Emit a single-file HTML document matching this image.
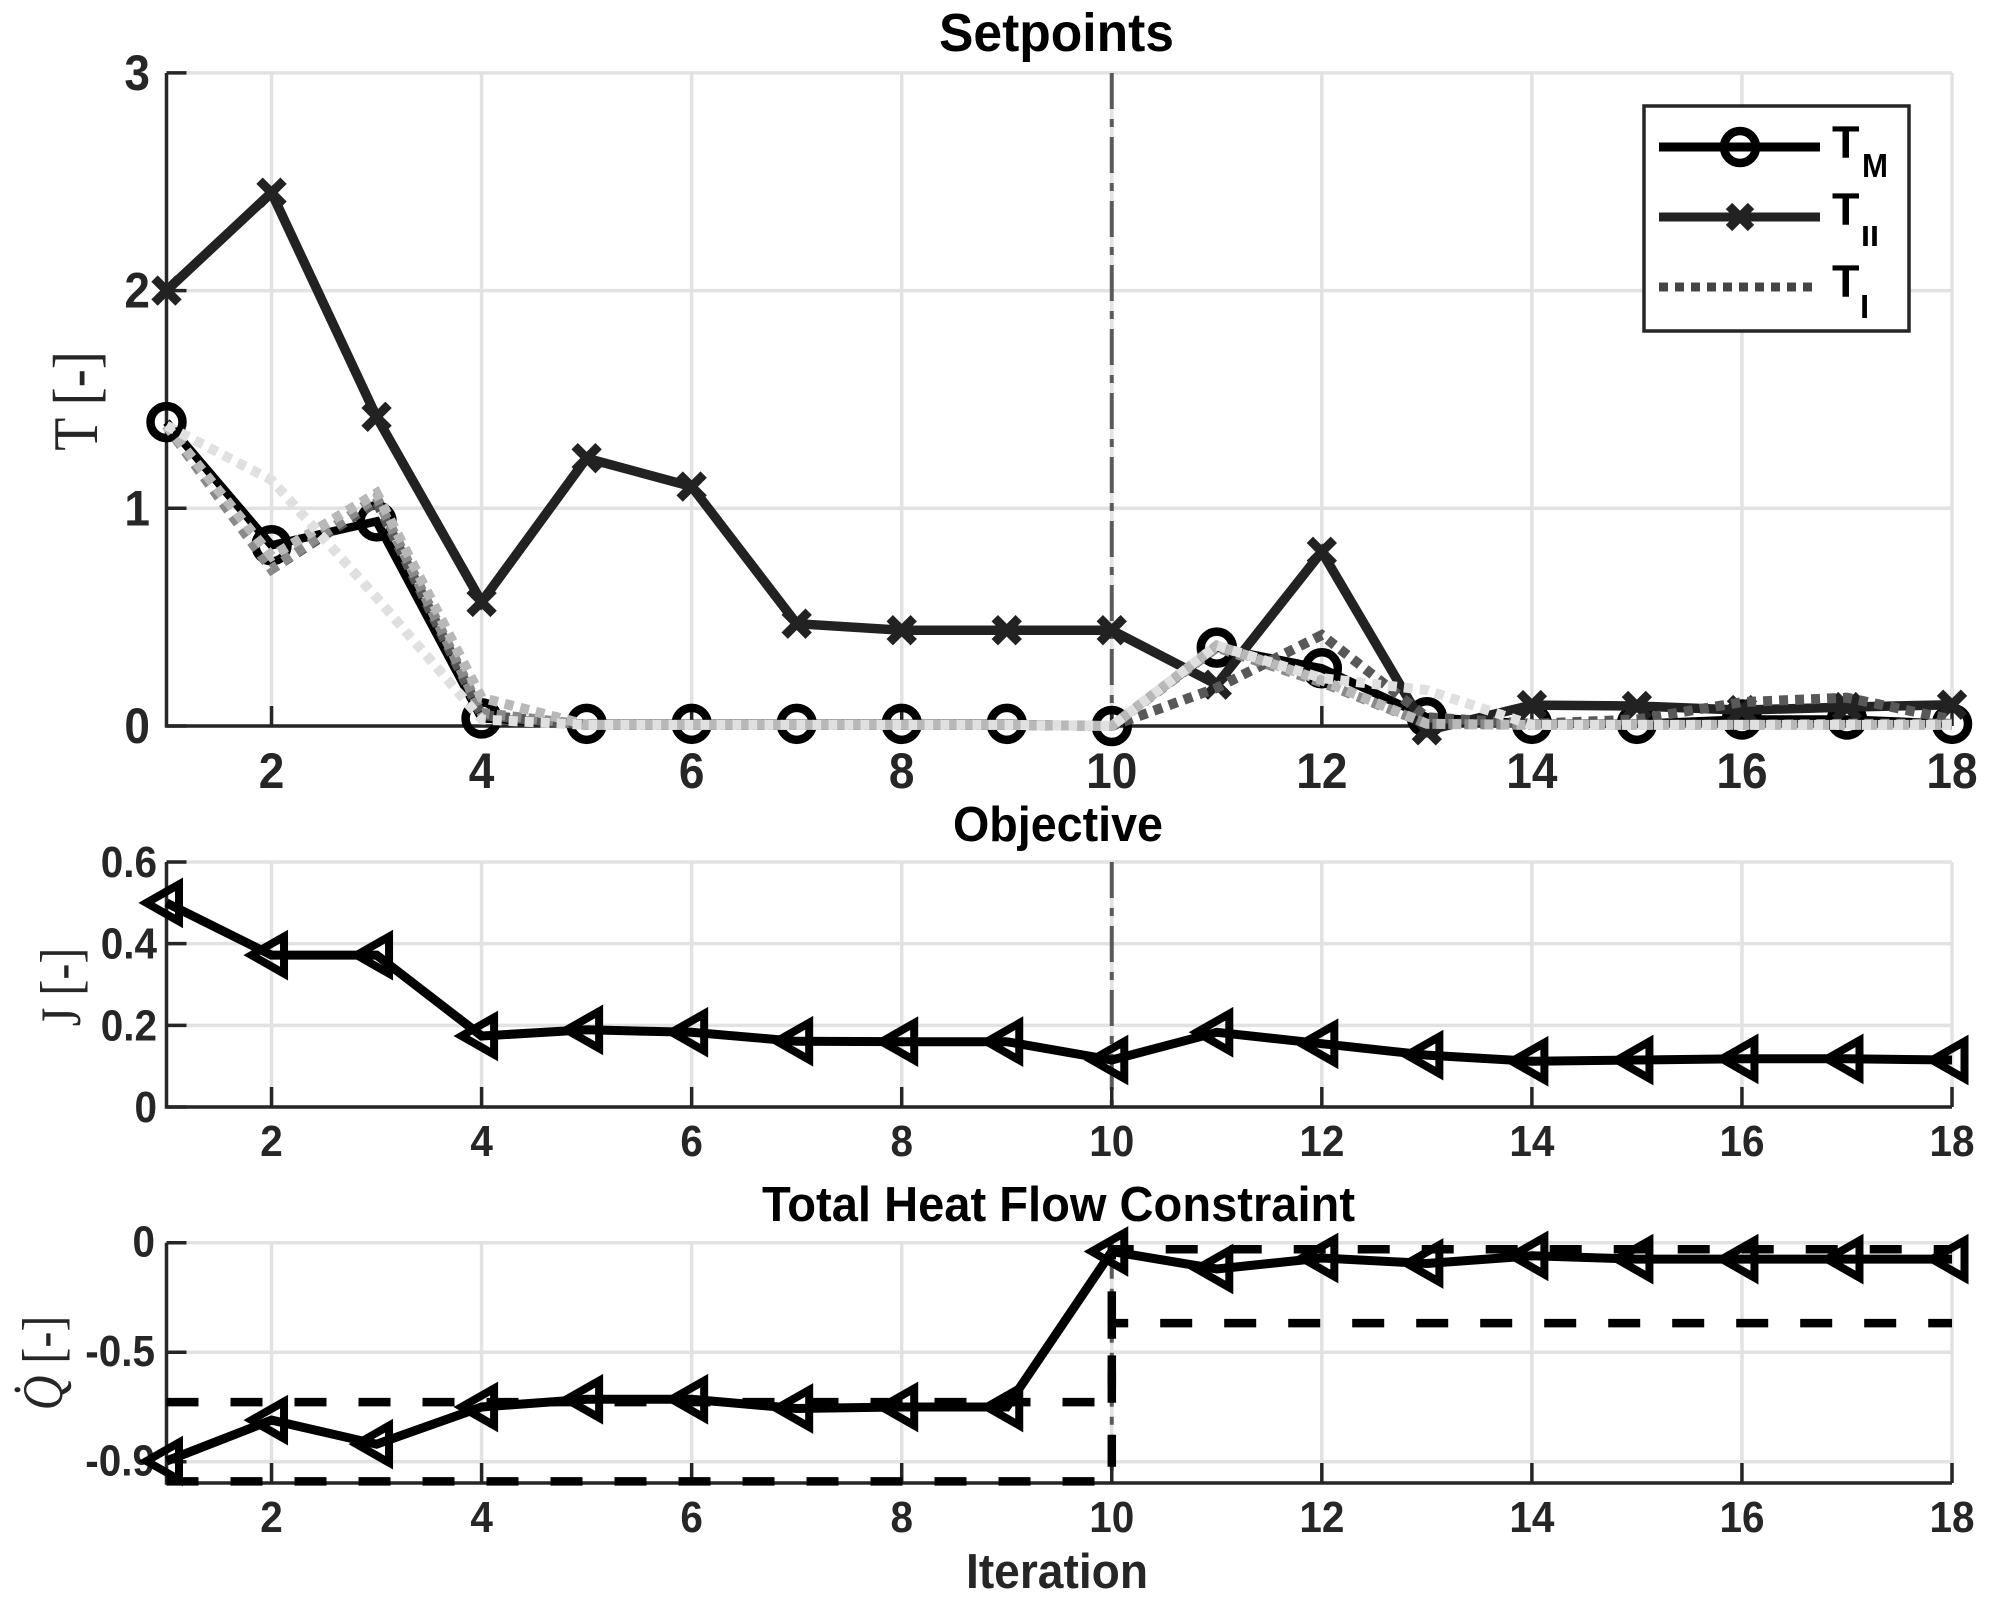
<!DOCTYPE html>
<html lang="en">
<head>
<meta charset="utf-8">
<title>Setpoints, Objective and Total Heat Flow Constraint</title>
<style>
html,body{margin:0;padding:0;background:#fff;}
svg{display:block;}
text{font-family:"Liberation Sans",sans-serif;font-weight:bold;fill:#262626;}
.serif{font-family:"Liberation Serif",serif;font-weight:normal;}
.title{fill:#000;}
</style>
</head>
<body>
<svg id="chart" xmlns="http://www.w3.org/2000/svg" width="2002" height="1610" viewBox="0 0 2002 1610">
  <rect x="0" y="0" width="2002" height="1610" fill="#fff"/>
  <text class="title" x="939" y="51" font-size="54" textLength="235" lengthAdjust="spacingAndGlyphs">Setpoints</text>
  <text class="title" x="953" y="841" font-size="49" textLength="210" lengthAdjust="spacingAndGlyphs">Objective</text>
  <text class="title" x="762" y="1221" font-size="49" textLength="593" lengthAdjust="spacingAndGlyphs">Total Heat Flow Constraint</text>
  <text x="966" y="1588" font-size="49" textLength="182" lengthAdjust="spacingAndGlyphs">Iteration</text>
  <text class="serif" text-anchor="middle" transform="translate(97,401) rotate(-90) scale(1,1.18)" font-size="54">T [-]</text>
  <text class="serif" text-anchor="middle" transform="translate(80,987) rotate(-90) scale(1,1.2)" font-size="48">J [-]</text>
  <text class="serif" text-anchor="middle" transform="translate(62,1363) rotate(-90) scale(1,1.2)" font-size="48" font-style="italic">Q&#775; <tspan font-style="normal">[-]</tspan></text>
  <g id="plots"></g>
  <g id="legend">
    <rect x="1644" y="106" width="265" height="225" fill="#fff" stroke="#262626" stroke-width="3.5"/>
    <g>
      <line x1="1659" y1="147" x2="1820" y2="147" stroke="#000" stroke-width="9"/>
      <circle cx="1740" cy="147" r="16" fill="none" stroke="#000" stroke-width="8.5"/>
      <text class="title" x="1832" y="158" font-size="45">T</text>
      <text class="title" x="1862" y="177" font-size="33" textLength="26" lengthAdjust="spacingAndGlyphs">M</text>
    </g>
    <g>
      <line x1="1659" y1="217" x2="1820" y2="217" stroke="#222" stroke-width="9"/>
      <line x1="1729" y1="206" x2="1751" y2="228" stroke="#222" stroke-width="9"/>
      <line x1="1751" y1="206" x2="1729" y2="228" stroke="#222" stroke-width="9"/>
      <text class="title" x="1832" y="225" font-size="45">T</text>
      <text class="title" x="1861" y="246" font-size="29" textLength="18" lengthAdjust="spacingAndGlyphs">II</text>
    </g>
    <g>
      <line x1="1659" y1="287" x2="1812" y2="287" stroke="#444" stroke-width="9" stroke-dasharray="9 7"/>
      <text class="title" x="1832" y="297" font-size="45">T</text>
      <text class="title" x="1860" y="318" font-size="33">I</text>
    </g>
  </g>
</svg>
<script>
// ---- data ----
const iterations = [1,2,3,4,5,6,7,8,9,10,11,12,13,14,15,16,17,18];
const xTicks = [2,4,6,8,10,12,14,16,18];
const switchIteration = 10;

const setpointTicks = [0,1,2,3];
const setpointTickLabels = ['0','1','2','3'];
const tM  = [1.396,0.83,0.94,0.035,0.01,0.01,0.01,0.01,0.01,0,0.36,0.265,0.04,0.01,0.01,0.03,0.03,0.01];
const tII = [2.0,2.45,1.42,0.57,1.23,1.10,0.47,0.44,0.44,0.44,0.19,0.80,-0.02,0.096,0.092,0.073,0.087,0.098];
const tI1 = [1.38,0.72,1.03,0.05,0.005,0.005,0.005,0.005,0.005,0,0.175,0.418,0.04,0.01,0.03,0.11,0.13,0.03];
const tI2 = [1.38,0.72,1.05,0.06,0.005,0.005,0.005,0.005,0.005,0,0.36,0.20,0.01,0.005,0.005,0.005,0.01,0.01];
const tI3 = [1.38,0.78,1.07,0.13,0.005,0.005,0.005,0.005,0.005,0,0.37,0.21,0.01,0.005,0.005,0.005,0.005,0.005];
const tI4 = [1.38,1.13,0.59,0.03,0.005,0.005,0.005,0.005,0.005,0,0.37,0.22,0.165,0.005,0.005,0.005,0.005,0.005];

const objectiveTicks = [0,0.2,0.4,0.6];
const objectiveTickLabels = ['0','0.2','0.4','0.6'];
const objective = [0.50,0.372,0.372,0.174,0.189,0.183,0.161,0.16,0.16,0.115,0.183,0.155,0.127,0.112,0.115,0.118,0.118,0.115];

const heatTicks = [0,-0.5,-1];
const heatTickLabels = ['0','-0.5','-0.9'];
const heatFlow = [-0.997,-0.81,-0.92,-0.75,-0.715,-0.715,-0.757,-0.75,-0.75,-0.04,-0.12,-0.07,-0.095,-0.06,-0.075,-0.075,-0.075,-0.075];
const upperBoundIter = [1,10,10,18];
const upperBoundVal = [-0.728,-0.728,-0.03,-0.03];
const lowerBoundIter = [1,10,10,18];
const lowerBoundVal = [-1.09,-1.09,-0.367,-0.367];

// ---- axis functions ----
const NS = 'http://www.w3.org/2000/svg';
const root = document.getElementById('plots');
const X = i => 166.5 + (i - 1) * 105.03;
const Yset = v => 726 - v * 217.7;
const Yobj = v => 1107 - v * 408.3;
const Yheat = v => 1242.7 - v * 219;

function mk(tag, attrs, parent) {
  const el = document.createElementNS(NS, tag);
  for (const k in attrs) el.setAttribute(k, attrs[k]);
  (parent || root).appendChild(el);
  return el;
}
function pts(xs, ys, Y) {
  return xs.map((x, i) => X(x).toFixed(1) + ',' + Y(ys[i]).toFixed(1)).join(' ');
}

function drawFrame(name, Y, top, bottom, yTicks, yLabels, opts) {
  const g = mk('g', {});
  
  
  yTicks.forEach(v => {
    const el = mk('line', {x1: X(1), x2: X(18), y1: Y(v), y2: Y(v), stroke: '#e2e2e2', 'stroke-width': 3.5}, g);
    
    
  });
  xTicks.forEach(t => {
    const el = mk('line', {x1: X(t), x2: X(t), y1: top, y2: bottom, stroke: '#e2e2e2', 'stroke-width': 3.5}, g);
    
    
  });
  const sw = mk('line', {x1: X(switchIteration), x2: X(switchIteration), y1: top, y2: bottom, stroke: '#5a5a5a', 'stroke-width': 4, 'stroke-dasharray': '36 10 8 10'}, g);
  
  
  yTicks.forEach((v, i) => {
    const tk = mk('line', {x1: X(1), x2: X(1) + 20, y1: Y(v), y2: Y(v), stroke: '#262626', 'stroke-width': 3.5}, g);
    
    
    const lb = mk('text', {transform: 'translate(' + opts.yLabelX + ',' + (Y(v) + opts.yLabelDy) + ') scale(0.92,1)', 'text-anchor': 'end', 'font-size': opts.fontSize}, g);
    lb.textContent = yLabels[i];
    
    
  });
  xTicks.forEach(t => {
    const tk = mk('line', {x1: X(t), x2: X(t), y1: bottom, y2: bottom - 20, stroke: '#262626', 'stroke-width': 3.5}, g);
    
    
    const lb = mk('text', {transform: 'translate(' + X(t) + ',' + opts.xLabelY + ') scale(0.92,1)', 'text-anchor': 'middle', 'font-size': opts.fontSize}, g);
    lb.textContent = String(t);
    
    
  });
  const ax = mk('polyline', {points: X(1) + ',' + top + ' ' + X(1) + ',' + bottom + ' ' + X(18) + ',' + bottom, fill: 'none', stroke: '#262626', 'stroke-width': 3.5}, g);
  
  
}

function triangles(values, Y, name) {
  const g = mk('g', {});
  
  
  iterations.forEach((it, i) => {
    const cx = X(it), cy = Y(values[i]);
    const p = (cx - 20) + ',' + cy + ' ' + (cx + 12.5) + ',' + (cy - 18.5) + ' ' + (cx + 12.5) + ',' + (cy + 18.5);
    const el = mk('polygon', {points: p, fill: 'none', stroke: '#000', 'stroke-width': 8}, g);
    
    
  });
}

// ---- setpoints panel ----
drawFrame('setpoints', Yset, 73, 726, setpointTicks, setpointTickLabels, {yLabelX: 150, yLabelDy: 17, fontSize: 50, xLabelY: 788});

const lineTM = mk('polyline', {points: pts(iterations, tM, Yset), fill: 'none', stroke: '#000', 'stroke-width': 8.5});


iterations.forEach((it, i) => {
  const c = mk('circle', {cx: X(it), cy: Yset(tM[i]), r: 16, fill: 'none', stroke: '#000', 'stroke-width': 8.5});
  
  
});

const lineTII = mk('polyline', {points: pts(iterations, tII, Yset), fill: 'none', stroke: '#222', 'stroke-width': 9.5});


iterations.forEach((it, i) => {
  const cx = X(it), cy = Yset(tII[i]);
  const a = mk('path', {d: 'M' + (cx - 12) + ' ' + (cy - 12) + 'L' + (cx + 12) + ' ' + (cy + 12) + 'M' + (cx + 12) + ' ' + (cy - 12) + 'L' + (cx - 12) + ' ' + (cy + 12), fill: 'none', stroke: '#222', 'stroke-width': 9});
  
  
});

const dot1 = mk('polyline', {points: pts(iterations, tI1, Yset), fill: 'none', stroke: '#585858', 'stroke-width': 10, 'stroke-dasharray': '9 7'});


const dot2 = mk('polyline', {points: pts(iterations, tI2, Yset), fill: 'none', stroke: '#8a8a8a', 'stroke-width': 10, 'stroke-dasharray': '9 7'});


const dot3 = mk('polyline', {points: pts(iterations, tI3, Yset), fill: 'none', stroke: '#b8b8b8', 'stroke-width': 10, 'stroke-dasharray': '9 7'});


const dot4 = mk('polyline', {points: pts(iterations, tI4, Yset), fill: 'none', stroke: '#e0e0e0', 'stroke-width': 10, 'stroke-dasharray': '9 7'});



// ---- objective panel ----
drawFrame('objective', Yobj, 862, 1107, objectiveTicks, objectiveTickLabels, {yLabelX: 157, yLabelDy: 15, fontSize: 44, xLabelY: 1156});
const lineJ = mk('polyline', {points: pts(iterations, objective, Yobj), fill: 'none', stroke: '#000', 'stroke-width': 9});


triangles(objective, Yobj, 'objective');

// ---- heat flow panel ----
drawFrame('heat-flow', Yheat, 1242.7, 1483, heatTicks, heatTickLabels, {yLabelX: 155, yLabelDy: 14, fontSize: 44, xLabelY: 1532});
const upper = mk('polyline', {points: pts(upperBoundIter, upperBoundVal, Yheat), fill: 'none', stroke: '#000', 'stroke-width': 8.5, 'stroke-dasharray': '32 32'});


const lower = mk('polyline', {points: pts(lowerBoundIter, lowerBoundVal, Yheat), fill: 'none', stroke: '#000', 'stroke-width': 8.5, 'stroke-dasharray': '32 32'});


const lineQ = mk('polyline', {points: pts(iterations, heatFlow, Yheat), fill: 'none', stroke: '#000', 'stroke-width': 9});


triangles(heatFlow, Yheat, 'heat-flow');
</script>
</body>
</html>
